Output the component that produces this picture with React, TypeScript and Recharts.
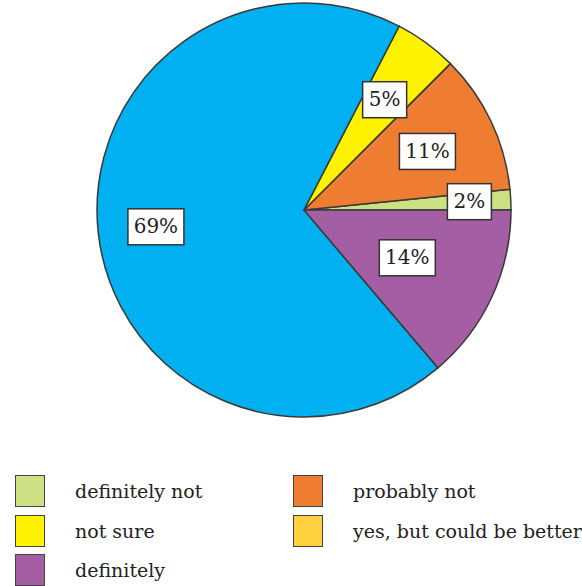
import { PieChart, Pie, Cell } from 'recharts'

// slices, counter-clockwise from 3 o'clock
const sliceNames = ['definitely not', 'probably not', 'not sure', 'yes', 'definitely']
const sliceValues = [1.6, 10.9, 4.9, 68.8, 13.8]
const sliceColors = ['#CDE083', '#EF7D31', '#FFF200', '#00B0F0', '#A45FA4']

// legend entries, in reading order
const legendNames = ['definitely not', 'probably not', 'not sure', 'yes, but could be better', 'definitely']
const legendColors = ['#CDE083', '#EF7D31', '#FFF200', '#FFD040', '#A45FA4']

// where each label box sits, as a fraction of the radius
const labelRadius = [0.8, 0.66, 0.66, 0.72, 0.55]

const FONT = '"DejaVu Serif", serif'
const RADIAN = Math.PI / 180

const data = sliceNames.map((name, i) => ({ name, value: sliceValues[i] }))

function renderLabel(props: any) {
  const { cx, cy, midAngle, outerRadius, index, value } = props
  const r = outerRadius * labelRadius[index]
  const x = cx + r * Math.cos(-midAngle * RADIAN)
  const y = cy + r * Math.sin(-midAngle * RADIAN)
  const text = `${Math.round(value)}%`
  const w = text.length > 2 ? 56 : 44
  const h = 36
  return (
    <g key={`lbl-${index}`}>
      <rect x={x - w / 2} y={y - h / 2} width={w} height={h} fill="#fff" stroke="#333" strokeWidth={1.5} />
      <text x={x} y={y + 1} textAnchor="middle" dominantBaseline="middle" style={{ fontFamily: FONT }} fontSize={20} fill="#222">
        {text}
      </text>
    </g>
  )
}

function LegendItem({ name, color, left, top }: { name: string; color: string; left: number; top: number }) {
  return (
    <div style={{ position: 'absolute', left, top, height: 32, display: 'flex', alignItems: 'center' }}>
      <div style={{ width: 28, height: 30, background: color, border: '1.5px solid #444' }} />
      <span style={{ marginLeft: 30, fontFamily: FONT, fontSize: 19, color: '#222', whiteSpace: 'nowrap' }}>{name}</span>
    </div>
  )
}

export default function App() {
  const cols = [15, 293]
  const rows = [475, 515, 554]
  return (
    <div style={{ position: 'absolute', left: 0, top: 0, width: 582, height: 586, background: '#fff', overflow: 'hidden' }}>
      <PieChart width={582} height={440} margin={{ top: 0, right: 0, bottom: 0, left: 0 }}>
        <Pie
          data={data}
          dataKey="value"
          nameKey="name"
          cx={304}
          cy={210}
          outerRadius={207}
          startAngle={0}
          endAngle={360}
          stroke="#3a3a3a"
          strokeWidth={1.5}
          labelLine={false}
          label={renderLabel}
          isAnimationActive={false}
        >
          {data.map((d, i) => (
            <Cell key={d.name} fill={sliceColors[i]} />
          ))}
        </Pie>
      </PieChart>
      {legendNames.map((name, i) => (
        <LegendItem
          key={name}
          name={name}
          color={legendColors[i]}
          left={cols[i % 2]}
          top={rows[Math.floor(i / 2)]}
        />
      ))}
    </div>
  )
}
